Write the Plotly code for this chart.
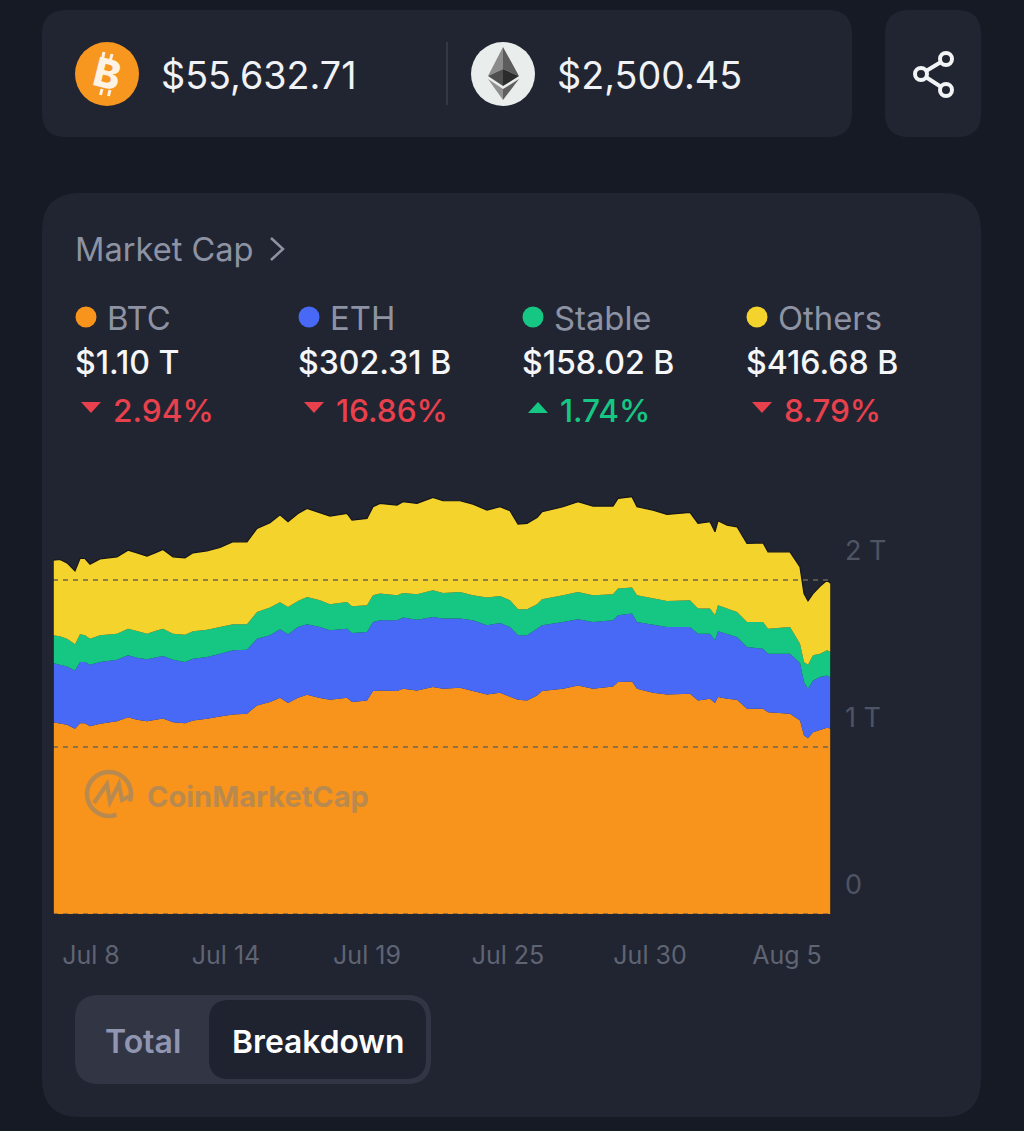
"""CoinMarketCap market cap breakdown card"""

import numpy as np
import plotly.graph_objects as go

W, H = 1024, 1131
FONT = "Inter"

# time steps along the 30 day window (one step is about an hour)
time_steps = [0, 7, 14, 22, 27, 32, 37, 47, 64, 75, 84, 94, 102, 110, 120, 132, 140, 154, 167, 180,
              194, 204, 217, 227, 235, 245, 254, 267, 277, 294, 299, 314, 320, 327, 344, 350, 364, 380, 390, 407,
              420, 434, 447, 457, 465, 474, 484, 489, 510, 525, 540, 560, 565, 579, 584, 600, 614, 637, 645,
              657, 662, 665, 674, 684, 694, 710, 715, 737, 747, 751, 755, 760, 767, 774, 778]

# market cap in billions of USD
btc_cap = [1149, 1139, 1133, 1109, 1143, 1143, 1125, 1139, 1155, 1179, 1163, 1155, 1163, 1171, 1149, 1143, 1159, 1169, 1183, 1195,
           1199, 1249, 1269, 1295, 1263, 1295, 1313, 1293, 1283, 1295, 1269, 1279, 1335, 1339, 1335, 1349, 1339, 1359, 1349, 1355,
           1335, 1315, 1325, 1303, 1283, 1279, 1309, 1335, 1349, 1369, 1349, 1363, 1389, 1393, 1349, 1325, 1315, 1319, 1279,
           1289, 1263, 1299, 1289, 1283, 1229, 1229, 1209, 1199, 1159, 1069, 1053, 1089, 1103, 1115, 1109]
eth_cap = [354, 356, 350, 350, 366, 366, 368, 370, 368, 370, 372, 370, 372, 374, 374, 366, 370, 370, 376, 384,
           384, 400, 400, 410, 412, 424, 422, 426, 416, 414, 414, 410, 414, 420, 424, 426, 424, 420, 420, 414,
           424, 414, 418, 416, 386, 390, 400, 394, 400, 396, 400, 396, 400, 406, 400, 410, 404, 400, 400,
           390, 376, 394, 390, 376, 370, 360, 350, 360, 344, 320, 296, 310, 316, 314, 306]
stable_cap = [166, 168, 166, 156, 166, 160, 156, 160, 156, 160, 160, 154, 160, 164, 156, 164, 164, 164, 160, 156,
              152, 160, 166, 162, 164, 156, 164, 160, 156, 160, 160, 160, 160, 160, 150, 148, 152, 160, 154, 160,
              150, 166, 162, 160, 156, 156, 146, 156, 160, 164, 160, 156, 160, 156, 160, 154, 156, 160, 150,
              150, 150, 156, 150, 150, 150, 160, 150, 160, 116, 120, 144, 150, 140, 150, 154]
others_cap = [450, 460, 454, 440, 454, 460, 446, 458, 460, 470, 468, 464, 468, 474, 460, 460, 470, 472, 476, 494,
              494, 500, 508, 524, 510, 524, 530, 526, 528, 530, 516, 520, 530, 540, 540, 546, 544, 556, 552, 546,
              546, 524, 534, 536, 510, 514, 520, 524, 530, 540, 534, 528, 540, 544, 530, 530, 518, 526, 510,
              520, 500, 506, 500, 510, 470, 474, 460, 450, 460, 410, 382, 370, 404, 420, 410]

x_tick_steps = [38, 173, 314, 455, 597, 734]
x_tick_labels = ["Jul 8", "Jul 14", "Jul 19", "Jul 25", "Jul 30", "Aug 5"]
y_tick_values = [0, 1000, 2000]
y_tick_labels = ["0", "1 T", "2 T"]

legend_names = ["BTC", "ETH", "Stable", "Others"]
legend_values = ["$1.10 T", "$302.31 B", "$158.02 B", "$416.68 B"]
legend_changes = ["2.94%", "16.86%", "1.74%", "8.79%"]
legend_up = [False, False, True, False]
legend_colors = ["#f8931c", "#4769f6", "#16c784", "#f4d32c"]

PAGE = "#161a25"
CARD = "#212532"
RED = "#e8404c"
GREEN = "#16c784"
EDGE = "#14161d"


def px(x):
    return x / W


def py(y):
    return 1 - y / H


def round_rect(x0, y0, x1, y1, r, fill, line=None):
    # paper coords path, plotly has no rounded rectangle
    p = (f"M {px(x0 + r)} {py(y0)} L {px(x1 - r)} {py(y0)} Q {px(x1)} {py(y0)} {px(x1)} {py(y0 + r)} "
         f"L {px(x1)} {py(y1 - r)} Q {px(x1)} {py(y1)} {px(x1 - r)} {py(y1)} "
         f"L {px(x0 + r)} {py(y1)} Q {px(x0)} {py(y1)} {px(x0)} {py(y1 - r)} "
         f"L {px(x0)} {py(y0 + r)} Q {px(x0)} {py(y0)} {px(x0 + r)} {py(y0)} Z")
    return dict(type="path", path=p, xref="paper", yref="paper", fillcolor=fill,
                line=dict(width=0 if line is None else 2, color=line or fill), layer="below")


def poly(points, fill=None, line=None, width=0, close=True, layer="below"):
    p = "M " + " L ".join(f"{px(x)} {py(y)}" for x, y in points)
    if close:
        p += " Z"
    return dict(type="path", path=p, xref="paper", yref="paper",
                fillcolor=fill if fill else "rgba(0,0,0,0)",
                line=dict(width=width, color=line or "rgba(0,0,0,0)"), layer=layer)


def circle(cx, cy, r, fill=None, line=None, width=0, layer="below"):
    return dict(type="circle", xref="paper", yref="paper",
                x0=px(cx - r), x1=px(cx + r), y0=py(cy + r), y1=py(cy - r),
                fillcolor=fill if fill else "rgba(0,0,0,0)",
                line=dict(width=width, color=line or "rgba(0,0,0,0)"), layer=layer)


def label(x, y, text, size, color, anchor="left", weight=400, angle=0):
    # annotations pad their text by about 3px on the left
    x = x - 3 if anchor == "left" else x
    return dict(x=px(x), y=py(y), xref="paper", yref="paper", text=text, showarrow=False,
                xanchor=anchor, yanchor="middle", textangle=angle,
                font=dict(family=FONT, size=size, color=color, weight=weight))


shapes = [
    round_rect(42, 10, 852, 137, 24, CARD),
    round_rect(885, 10, 981, 137, 24, CARD),
    round_rect(42, 193, 981, 1117, 38, CARD),
    circle(107, 74, 32, fill="#f8971f"),
    poly([(447, 42), (447, 105)], line="#343845", width=2, close=False),
    circle(503, 74, 32, fill="#e9edeb"),
    # ether diamond
    poly([(503, 47), (488, 76), (503, 69)], fill="#8b8b8b"),
    poly([(503, 47), (519, 76), (503, 69)], fill="#5c5c5c"),
    poly([(488, 76), (503, 69), (503, 86)], fill="#4f4f4f"),
    poly([(519, 76), (503, 69), (503, 86)], fill="#2c2c2c"),
    poly([(488, 79), (503, 89), (503, 100)], fill="#909090"),
    poly([(519, 79), (503, 89), (503, 100)], fill="#5f5f5f"),
    # share icon
    poly([(946, 59), (921, 74), (946, 90)], line="#f2f3f5", width=4, close=False),
    circle(946, 59, 6, fill=CARD, line="#f2f3f5", width=4),
    circle(921, 74, 6, fill=CARD, line="#f2f3f5", width=4),
    circle(946, 90, 6, fill=CARD, line="#f2f3f5", width=4),
    # chevron next to the title
    poly([(271, 238), (283, 249), (271, 260)], line="#8d93a3", width=2.5, close=False),
    # toggle
    round_rect(75, 995, 431, 1084, 24, "#323644"),
    round_rect(209, 1000, 426, 1079, 20, "#1f2330"),
]

# the little bars of the bitcoin glyph
for (a, b) in [((104, 52), (102.5, 59)), ((112, 54), (110.5, 60)), ((102, 89), (100.5, 95)), ((110, 90), (108.5, 96))]:
    shapes.append(poly([a, b], line="#fdf3e4", width=3, close=False))

annotations = [
    label(162, 75, "$55,632.71", 37.7, "#f0f2f5"),
    label(558, 75, "$2,500.45", 37.7, "#f0f2f5"),
    label(107, 74, "B", 40, "#fdf3e4", anchor="center", weight=800, angle=14),
    label(76, 249, "Market Cap", 32.6, "#8d93a3"),
    label(143, 1041, "Total", 32, "#9096b2", anchor="center", weight=600),
    label(318, 1041, "Breakdown", 31.8, "#ffffff", anchor="center", weight=600),
    label(148, 796, "CoinMarketCap", 29, "#b98a50", weight=700),
]

# legend block
legend_x = [76, 299, 523, 747]
for lx, name, val, chg, up, col in zip(legend_x, legend_names, legend_values, legend_changes, legend_up, legend_colors):
    chg_col = GREEN if up else RED
    shapes.append(circle(lx + 10, 317, 10.5, fill=col))
    annotations.append(label(lx + 32, 318, name, 32.8, "#8d93a3"))
    annotations.append(label(lx, 362, val, 32.1, "#f5f6f8", weight=500))
    annotations.append(label(lx + 37.5, 410, chg, 31.6, chg_col, weight=500))
    if up:
        shapes.append(poly([(lx + 5, 413), (lx + 25, 413), (lx + 15, 402)], fill=chg_col))
    else:
        shapes.append(poly([(lx + 5, 402), (lx + 25, 402), (lx + 15, 413)], fill=chg_col))

# watermark logo, open ring with the little m inside
ang = np.radians(np.arange(-20, 300, 10))
ring = [(109 + 22 * np.cos(a), 794 - 22 * np.sin(a)) for a in ang]
shapes.append(poly(ring, line="#b98a50", width=4.5, close=False, layer="above"))
shapes.append(poly([(94, 803), (107, 784), (110, 802), (119, 784), (122, 800), (130, 796)],
                   line="#b98a50", width=4, close=False, layer="above"))

# dashed levels sit on top of the areas
for v in y_tick_values:
    shapes.append(dict(type="line", xref="x", yref="y", x0=0, x1=max(time_steps), y0=v, y1=v,
                       line=dict(color="#6d6552", width=1.6, dash="5px,5px"), layer="above"))

# y labels float about 30px above their level
for v, t in zip(y_tick_values, y_tick_labels):
    annotations.append(dict(x=px(843), xref="paper", y=v, yref="y", yshift=30, text=t, showarrow=False,
                            xanchor="left", yanchor="middle",
                            font=dict(family=FONT, size=27, color="#4f5463")))

fig = go.Figure()
series = [("BTC", btc_cap), ("ETH", eth_cap), ("Stable", stable_cap), ("Others", others_cap)]
for (name, vals), col in zip(series, legend_colors):
    # dark halo only along the top of the stack
    edge = dict(width=1.2, color=EDGE) if name == "Others" else dict(width=0, color=col)
    fig.add_trace(go.Scatter(x=time_steps, y=vals, name=name, mode="lines", stackgroup="one",
                             line=edge, fillcolor=col))

# dark edges at both ends of the areas
totals = [sum(v[i] for _, v in series) for i in (0, -1)]
for step, top in zip((time_steps[0], time_steps[-1]), totals):
    shapes.append(dict(type="line", xref="x", yref="y", x0=step, x1=step, y0=0, y1=top,
                       line=dict(color=EDGE, width=1.5), layer="above"))

fig.update_layout(
    width=W, height=H, margin=dict(l=0, r=0, t=0, b=0),
    paper_bgcolor=PAGE, plot_bgcolor="rgba(0,0,0,0)", showlegend=False,
    shapes=shapes, annotations=annotations,
    xaxis=dict(domain=[px(53), px(831)], range=[0, max(time_steps)], tickvals=x_tick_steps, ticktext=x_tick_labels,
               ticks="outside", ticklen=19, tickcolor="rgba(0,0,0,0)", showgrid=False, zeroline=False, showline=False,
               tickfont=dict(family=FONT, size=25, color="#5f6473")),
    yaxis=dict(domain=[py(914), py(460)], range=[0, 2719], showgrid=False, zeroline=False,
               showticklabels=False, ticks=""),
)

fig.write_html("out.html", config=dict(displayModeBar=False),
               post_script="document.body.style.margin='0';")
